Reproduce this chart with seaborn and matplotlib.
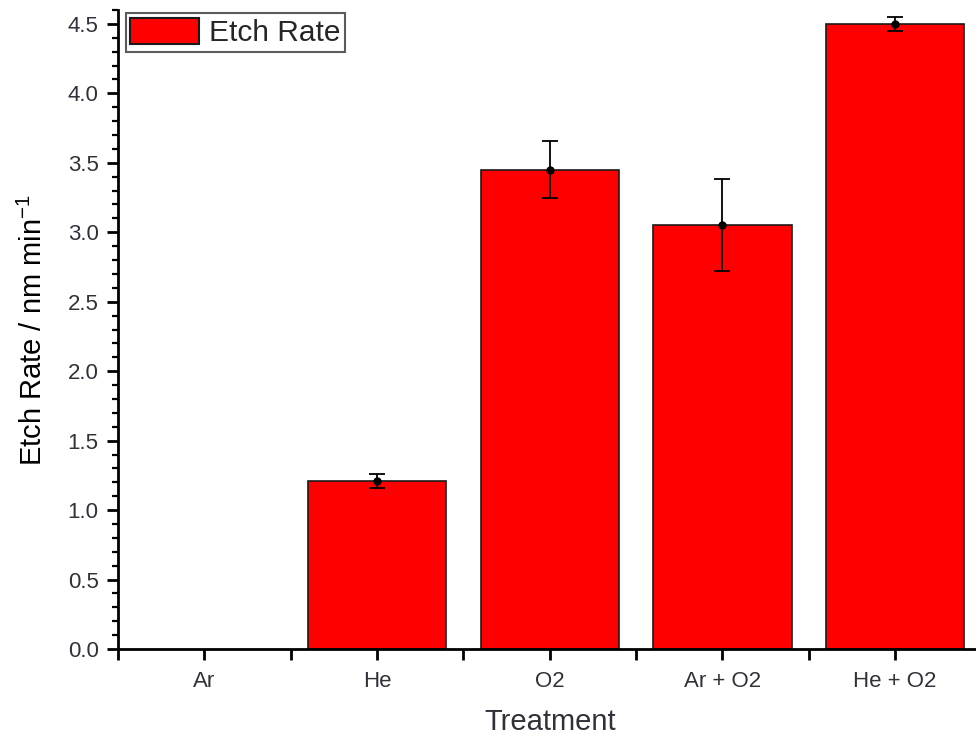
import matplotlib
matplotlib.use("Agg")
import matplotlib.pyplot as plt
from matplotlib.ticker import MultipleLocator, FormatStrFormatter
from matplotlib.patches import Patch
import seaborn as sns
import pandas as pd
import numpy as np

categories = ["Ar", "He", "O2", "Ar + O2", "He + O2"]
etch_rate = [0.0, 1.21, 3.45, 3.05, 4.50]
etch_err = [0.0, 0.05, 0.205, 0.33, 0.05]

sns.set_theme(style="ticks")
plt.rcParams["font.family"] = ["Liberation Sans", "DejaVu Sans"]

df = pd.DataFrame({"Treatment": categories, "Etch Rate": etch_rate})

fig = plt.figure(figsize=(9.76, 7.4), dpi=100)
ax = fig.add_axes([118/976, 1 - 649/740, (981.5 - 118)/976, (649 - 10)/740])

sns.barplot(data=df, x="Treatment", y="Etch Rate", color="#ff0000", saturation=1,
            width=0.8, edgecolor="#1a1a1a", linewidth=1.2, ax=ax)
for p in ax.patches:
    if p.get_height() == 0:
        p.set_linewidth(0)

xs = np.arange(len(categories))
mask = np.array(etch_rate) > 0
ax.errorbar(xs[mask], np.array(etch_rate)[mask], yerr=np.array(etch_err)[mask],
            fmt="o", color="black", ms=5, elinewidth=1.3, capsize=6, capthick=1.3)

ax.set_xlim(-0.5, 4.5)
ax.set_ylim(0, 4.6)
ax.yaxis.set_major_locator(MultipleLocator(0.5))
ax.yaxis.set_minor_locator(MultipleLocator(0.1))
ax.set_xticks(xs)
ax.set_xticks(np.arange(-0.5, 4.6, 1.0), minor=True)
ax.yaxis.set_major_formatter(FormatStrFormatter("%.1f"))

for s in ["top", "right"]:
    ax.spines[s].set_visible(False)
for s in ["left", "bottom"]:
    ax.spines[s].set_linewidth(2.0)
    ax.spines[s].set_color("black")

tick_color = "#33303a"
ax.tick_params(axis="both", which="major", direction="out", length=8, width=2,
               color="black", labelsize=16, labelcolor=tick_color, pad=6)
ax.tick_params(axis="x", which="major", pad=8)
ax.tick_params(axis="y", which="minor", direction="out", length=4, width=1.6, color="black")
ax.tick_params(axis="x", which="minor", direction="out", length=8, width=2, color="black")

ax.set_xlabel("Treatment", fontsize=21, color=tick_color, labelpad=11)
ax.set_ylabel("Etch Rate / nm min$^{\\mathregular{-1}}$", fontsize=21, color="black", labelpad=14)

handle = Patch(facecolor="#ff0000", edgecolor="#1a1a1a", linewidth=1.5)
leg = ax.legend([handle], ["Etch Rate"], loc="upper left", bbox_to_anchor=(0.009, 0.995),
                fontsize=21.5, frameon=True, fancybox=False, edgecolor="#333333",
                handlelength=2.3, handleheight=1.0, borderpad=0.15, handletextpad=0.35,
                borderaxespad=0.0)
leg.get_frame().set_linewidth(1.5)

fig.savefig("out.png", dpi=100)
